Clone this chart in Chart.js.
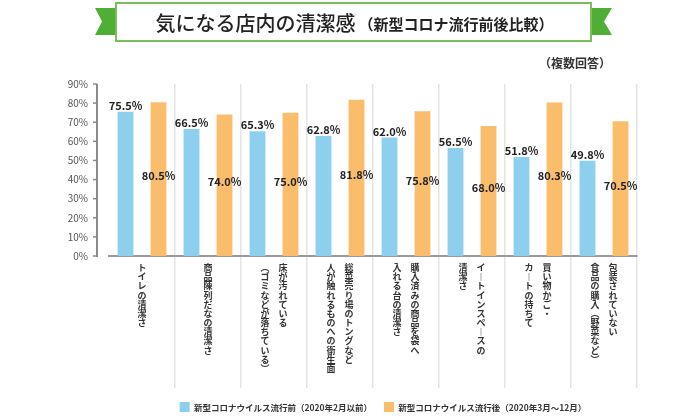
<!DOCTYPE html>
<html>
<head>
<meta charset="utf-8">
<script src="https://cdn.jsdelivr.net/npm/chart.js@4.4.1/dist/chart.umd.min.js"></script>
<style>
  html, body { margin: 0; padding: 0; background: #fff; }
  #wrap { width: 700px; height: 420px; position: relative; }
</style>
</head>
<body>
<div id="wrap"><canvas id="c" width="700" height="420"></canvas></div>
<script>
// ---- data ----
const titleMain = "気になる店内の清潔感";
const titleSub = "（新型コロナ流行前後比較）";
const note = "（複数回答）";
// each category: columns of vertical text, first column is the rightmost
const categories = [
  ["トイレの清潔さ"],
  ["商品陳列だなの清潔さ"],
  ["床が汚れている", "（ゴミなどが落ちている）"],
  ["総菜売り場のトングなど", "人が触れるものへの衛生面"],
  ["購入済みの商品を袋へ", "入れる台の清潔さ"],
  ["イートインスペースの", "清潔さ"],
  ["買い物かご・", "カートの持ちて"],
  ["包装されていない", "食品の購入（野菜など）"]
];
const seriesNames = [
  "新型コロナウイルス流行前（2020年2月以前）",
  "新型コロナウイルス流行後（2020年3月～12月）"
];
const before = [75.5, 66.5, 65.3, 62.8, 62.0, 56.5, 51.8, 49.8];
const after  = [80.5, 74.0, 75.0, 81.8, 75.8, 68.0, 80.3, 70.5];
const yMin = 0, yMax = 90, yStep = 10;

// ---- helpers ----
const FONT = "'Noto Sans CJK JP', 'Noto Sans', sans-serif";
const verticalMap = { "ー": "︱", "（": "︵", "）": "︶" };
function toVerticalLines(cols) {
  const chars = cols.map(c => Array.from(c).map(ch => verticalMap[ch] || ch));
  const n = Math.max(...chars.map(c => c.length));
  const lines = [];
  for (let i = 0; i < n; i++) {
    if (chars.length === 1) {
      lines.push(chars[0][i] || "　");
    } else {
      // right-to-left columns: rightmost is the first
      let parts = [];
      for (let k = chars.length - 1; k >= 0; k--) parts.push(chars[k][i] || "　");
      lines.push(parts.join("　"));
    }
  }
  return lines;
}
const tickLabels = categories.map(toVerticalLines);

// ---- plugins ----
const bannerPlugin = {
  id: 'banner',
  beforeDraw(chart) {
    const ctx = chart.ctx;
    ctx.save();
    // ribbons
    ctx.fillStyle = '#4fae36';
    ctx.beginPath();
    ctx.moveTo(95, 8); ctx.lineTo(117, 8); ctx.lineTo(117, 35); ctx.lineTo(95, 35); ctx.lineTo(102, 21.5); ctx.closePath();
    ctx.fill();
    ctx.beginPath();
    ctx.moveTo(590, 8); ctx.lineTo(612, 8); ctx.lineTo(604, 21.5); ctx.lineTo(612, 35); ctx.lineTo(590, 35); ctx.closePath();
    ctx.fill();
    // box
    ctx.fillStyle = '#ffffff';
    ctx.fillRect(115, 2, 477, 40);
    ctx.strokeStyle = '#7cbd5c';
    ctx.lineWidth = 2;
    ctx.strokeRect(116, 3, 475, 38);
    // title text
    ctx.fillStyle = '#222';
    ctx.textBaseline = 'middle';
    ctx.textAlign = 'left';
    ctx.font = "500 20px " + FONT;
    const w1 = ctx.measureText(titleMain).width;
    ctx.font = "bold 15px " + FONT;
    const w2 = ctx.measureText(titleSub).width;
    const x0 = 353 - (w1 + w2) / 2;
    ctx.font = "500 20px " + FONT;
    ctx.fillText(titleMain, x0, 23);
    ctx.font = "bold 15px " + FONT;
    ctx.fillText(titleSub, x0 + w1 + 3, 24);
    // note
    ctx.font = "bold 12px " + FONT;
    ctx.fillStyle = '#333';
    ctx.textAlign = 'right';
    ctx.fillText(note, 611, 63);
    ctx.restore();
  },
  afterDraw(chart) {
    // y axis line with tick marks, offset left of the plot
    const ctx = chart.ctx;
    const y = chart.scales.y;
    const x = chart.chartArea.left - 12;
    ctx.save();
    ctx.strokeStyle = '#8a8a8a';
    ctx.lineWidth = 2;
    ctx.beginPath();
    ctx.moveTo(x, y.getPixelForValue(yMin) + 1);
    ctx.lineTo(x, y.getPixelForValue(yMax));
    ctx.stroke();
    ctx.lineWidth = 1.5;
    y.ticks.forEach(t => {
      const py = y.getPixelForValue(t.value);
      ctx.beginPath();
      ctx.moveTo(x - 4, py);
      ctx.lineTo(x, py);
      ctx.stroke();
    });
    ctx.restore();
  }
};

const valueLabelPlugin = {
  id: 'valueLabels',
  afterDatasetsDraw(chart) {
    const ctx = chart.ctx;
    ctx.save();
    ctx.font = "bold 11px " + FONT;
    ctx.fillStyle = '#222';
    ctx.textAlign = 'center';
    ctx.textBaseline = 'middle';
    chart.data.datasets.forEach((ds, di) => {
      const meta = chart.getDatasetMeta(di);
      meta.data.forEach((bar, i) => {
        const txt = ds.data[i].toFixed(1) + '%';
        if (di === 0) {
          ctx.fillText(txt, bar.x, bar.y - 6);
        } else {
          ctx.fillText(txt, bar.x, (bar.y + bar.base) / 2 - 3);
        }
      });
    });
    ctx.restore();
  }
};

const sepColor = (c) => (c.index === 0 || c.index === categories.length) ? 'rgba(0,0,0,0)' : '#e4e4e4';

new Chart(document.getElementById('c'), {
  type: 'bar',
  data: {
    labels: tickLabels,
    datasets: [
      { label: seriesNames[0], data: before, backgroundColor: '#8dcfec', borderWidth: 0,
        categoryPercentage: 1.0, barPercentage: 0.48 },
      { label: seriesNames[1], data: after, backgroundColor: '#fabd6b', borderWidth: 0,
        categoryPercentage: 1.0, barPercentage: 0.48 }
    ]
  },
  options: {
    responsive: false,
    animation: false,
    layout: { padding: { top: 84, left: 66, right: 0, bottom: 8 } },
    plugins: {
      title: { display: false },
      tooltip: { enabled: false },
      legend: {
        position: 'bottom',
        maxHeight: 22,
        labels: {
          boxWidth: 10, boxHeight: 11, padding: 12,
          color: '#333',
          font: { family: FONT, size: 8.5, weight: 'bold' }
        }
      }
    },
    scales: {
      x: {
        offset: true,
        grid: {
          display: true, offset: true, drawOnChartArea: true, drawTicks: true,
          tickLength: 132, color: sepColor, tickColor: sepColor, lineWidth: 1.5
        },
        border: { display: true, color: '#9a9a9a', width: 2 },
        ticks: {
          autoSkip: false, maxRotation: 0, minRotation: 0, padding: -125,
          color: '#333',
          font: { family: FONT, size: 9, weight: 'bold', lineHeight: 1.02 }
        },
        afterFit(s) { s.height = 134; }
      },
      y: {
        min: yMin, max: yMax,
        grid: { display: false, drawTicks: false },
        border: { display: false },
        ticks: {
          stepSize: yStep, padding: 21, color: '#555',
          font: { family: FONT, size: 10 },
          callback: v => v + '%'
        },
        afterFit(s) { s.width = 43; }
      },
      yR: {
        position: 'right', display: true,
        grid: { display: false, drawTicks: false }, border: { display: false },
        ticks: { display: false },
        afterFit(s) { s.width = 63; }
      }
    }
  },
  plugins: [bannerPlugin, valueLabelPlugin]
});
</script>
</body>
</html>
